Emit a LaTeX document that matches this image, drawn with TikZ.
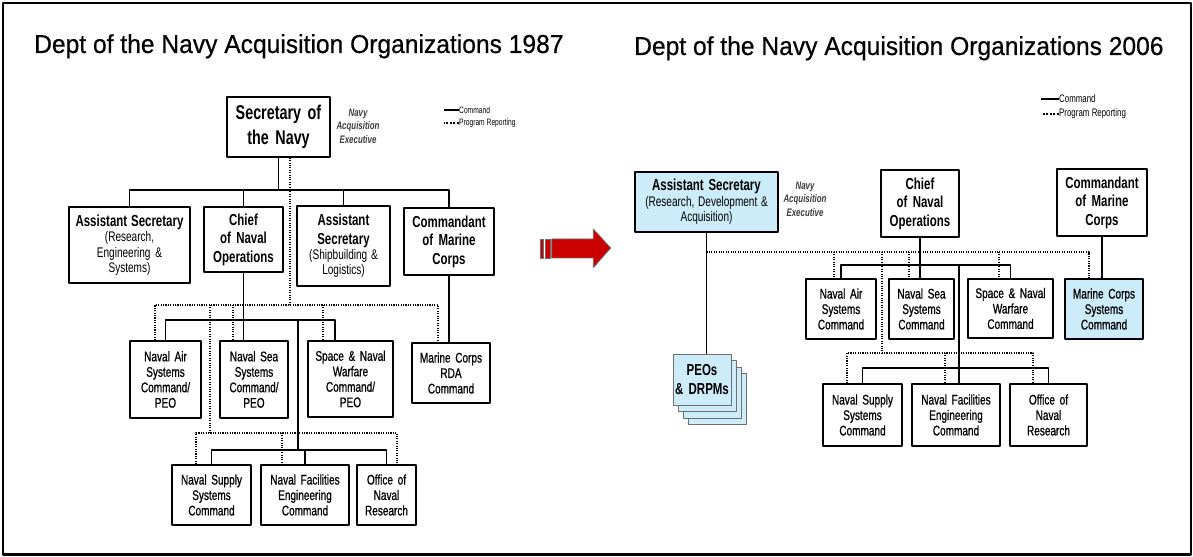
\documentclass[tikz,border=0pt]{standalone}
\usepackage{fontspec}
\setmainfont{Liberation Sans}
\newfontfamily\narrowsans[FakeStretch=0.72]{Liberation Sans}
\newfontfamily\unitsans[FakeStretch=0.72,FakeBold=0.8]{Liberation Sans}
\newfontfamily\titlesans[FakeStretch=0.95,FakeBold=0.5]{Liberation Sans}
\newcommand\titlefont{\titlesans\fontsize{26}{30}\selectfont}
\newcommand\narrowspace{\spaceskip=0.21em plus 0.1em minus 0.05em\relax}
\newcommand\secfont{\narrowsans\bfseries\fontsize{20}{25}\selectfont\narrowspace}
\newcommand\headfont{\narrowsans\bfseries\fontsize{16}{18.5}\selectfont\narrowspace}
\newcommand\subfont{\narrowsans\fontsize{14}{15.5}\selectfont\narrowspace}
\newcommand\unitfont{\unitsans\fontsize{14}{15.5}\selectfont\narrowspace}
\newcommand\naefont{\narrowsans\bfseries\itshape\fontsize{11}{13.5}\selectfont}
\newcommand\legendfont{\narrowsans\fontsize{9.3}{11}\selectfont\narrowspace}
\newcommand\biglegendfont{\narrowsans\fontsize{11}{13}\selectfont\narrowspace}
\begin{document}
\begin{tikzpicture}[>=latex,line join=bevel,
  orgbox/.style 2 args={draw,line width=1.6bp,inner sep=0bp,align=center,text width=#1,minimum height=#2},
  headbox/.style={font=\headfont},
  unitbox/.style={font=\unitfont},
  bluebox/.style={fill=peoblue},
  peobox/.style={draw=peogray,fill=peoblue,line width=0.8bp,inner sep=0bp,align=center,text width=58bp,minimum height=51bp,font=\headfont},
  cmd/.style={line width=1.6bp},
  rep/.style={line width=1.5bp,dash pattern=on 1.1bp off 1.3bp},
  nae/.style={font=\naefont,align=center,text=naegray,inner sep=0bp},
  legend/.style={anchor=west,inner sep=0bp},
  ]
\definecolor{peoblue}{RGB}{204,236,250}
\definecolor{peogray}{RGB}{110,110,110}
\definecolor{naegray}{RGB}{60,60,60}
\definecolor{arrowred}{RGB}{204,0,0}
\useasboundingbox (0bp,0bp) rectangle (1193bp,557bp);
\draw [line width=2.5bp] (3bp,2.5bp) rectangle (1191bp,554bp);
%%
\node (title1) at (34bp,504bp) [anchor=base west,inner sep=0bp,font=\titlefont] {Dept of the Navy Acquisition Organizations 1987};
  \node (title2) at (634bp,502bp) [anchor=base west,inner sep=0bp,font=\titlefont] {Dept of the Navy Acquisition Organizations 2006};
%% 1987
\node (sec) at (278.5bp,430bp) [orgbox={103bp}{60bp},font=\secfont] {Secretary of\\the Navy};
  \node (nae1) at (358bp,431bp) [nae] {Navy\\Acquisition\\Executive};
  \node (asre) at (129.5bp,312bp) [orgbox={121bp}{76bp}] {{\headfont Assistant Secretary\par}{\subfont (Research,\\Engineering \&\\Systems)\par}};
  \node (cno1) at (243.5bp,317.5bp) [orgbox={79bp}{65bp},headbox] {Chief\\of Naval\\Operations};
  \node (assl) at (343.5bp,311bp) [orgbox={93bp}{80bp}] {{\headfont Assistant\\Secretary\par}{\subfont (Shipbuilding \&\\Logistics)\par}};
  \node (cmc1) at (449bp,315.5bp) [orgbox={90bp}{67bp},headbox] {Commandant\\of Marine\\Corps};
  \node (navair1) at (165.5bp,177.5bp) [orgbox={71bp}{77bp},unitbox] {Naval Air\\Systems\\Command/\\PEO};
  \node (navsea1) at (254bp,177.5bp) [orgbox={68bp}{77bp},unitbox] {Naval Sea\\Systems\\Command/\\PEO};
  \node (spawar1) at (350.5bp,178bp) [orgbox={85bp}{76bp},unitbox] {Space \& Naval\\Warfare\\Command/\\PEO};
  \node (mcrda) at (451bp,184bp) [orgbox={78bp}{60bp},unitbox] {Marine Corps\\RDA\\Command};
  \node (supply1) at (211.5bp,62bp) [orgbox={79bp}{60bp},unitbox] {Naval Supply\\Systems\\Command};
  \node (navfac1) at (305bp,62bp) [orgbox={88bp}{60bp},unitbox] {Naval Facilities\\Engineering\\Command};
  \node (onr1) at (386.5bp,62bp) [orgbox={59bp}{60bp},unitbox] {Office of\\Naval\\Research};
  \node (lcmd1) at (459bp,447bp) [legend,font=\legendfont] {Command};
  \node (lrep1) at (459bp,434bp) [legend,font=\legendfont] {Program Reporting};
  \draw [cmd] (lcmd1.west) -- ++(-15bp,0bp);
  \draw [line width=2.5bp,dash pattern=on 2bp off 1.6bp] (lrep1.west) -- ++(-15bp,0bp);
% program reporting
\coordinate (dsec) at (290bp,252bp);
  \coordinate (dair) at (155bp,252bp);
  \coordinate (dshr) at (210bp,252bp);
  \coordinate (dsea) at (233bp,252bp);
  \coordinate (dspw) at (323bp,252bp);
  \coordinate (drda) at (438bp,252bp);
  \coordinate (dshore) at (210bp,124bp);
  \coordinate (dsup) at (196bp,124bp);
  \coordinate (dfac) at (282bp,124bp);
  \coordinate (donr) at (397bp,124bp);
  \draw [rep] (dsec |- sec.south) -- (dsec);
  \draw [rep] (dair |- navair1.north) -- (dair) -- (drda) -- (drda |- mcrda.north);
  \draw [rep] (dsea) -- (dsea |- navsea1.north);
  \draw [rep] (dspw) -- (dspw |- spawar1.north);
  \draw [rep] (dshr) -- (dshore);
  \draw [rep] (dsup |- supply1.north) -- (dsup) -- (donr) -- (donr |- onr1.north);
  \draw [rep] (dfac) -- (dfac |- navfac1.north);
% command
\coordinate (jsec) at (278.5bp,367bp);
  \coordinate (jcno) at (298bp,237bp);
  \coordinate (jspw) at (335bp,237bp);
  \coordinate (jshore) at (298bp,107bp);
  \draw [cmd] (sec) -- (jsec);
  \draw [cmd] (asre.north) |- (jsec) -| (cmc1.north);
  \draw [cmd] (cno1.north) -- (cno1.north |- jsec);
  \draw [cmd] (assl.north) -- (assl.north |- jsec);
  \draw [cmd] (cno1.south) -- (cno1.south |- navsea1.north);
  \draw [cmd] (navair1.north) |- (jspw) -- (jspw |- spawar1.north);
  \draw [cmd] (jcno) -- (jshore);
  \draw [cmd] (supply1.north) |- (jshore) -| (onr1.north);
  \draw [cmd] (navfac1.north) -- (navfac1.north |- jshore);
  \draw [cmd] (cmc1.south) -- (cmc1.south |- mcrda.north);
%% arrow
\filldraw [fill=arrowred,draw=peogray,line width=0.8bp] (540bp,299bp) rectangle (543.3bp,318bp);
  \filldraw [fill=arrowred,draw=peogray,line width=0.8bp] (545bp,299bp) rectangle (550.7bp,318bp);
  \filldraw [fill=arrowred,draw=peogray,line width=0.8bp] (551.7bp,318bp) -- (593.3bp,318bp) -- (593.3bp,328bp) -- (610.7bp,309bp) -- (593.3bp,289.3bp) -- (593.3bp,299bp) -- (551.7bp,299bp) -- cycle;
%% 2006
\node (asrda) at (706.5bp,355bp) [orgbox={143bp}{60bp},bluebox] {{\headfont Assistant Secretary\par}{\subfont (Research, Development \&\\Acquisition)\par}};
  \node (nae2) at (805bp,358bp) [nae] {Navy\\Acquisition\\Executive};
  \node (cno2) at (920bp,353.5bp) [orgbox={78bp}{67bp},headbox] {Chief\\of Naval\\Operations};
  \node (cmc2) at (1102bp,354.5bp) [orgbox={90bp}{67bp},headbox] {Commandant\\of Marine\\Corps};
  \node (navair2) at (841bp,248bp) [orgbox={70bp}{60bp},unitbox] {Naval Air\\Systems\\Command};
  \node (navsea2) at (921.5bp,248bp) [orgbox={65bp}{60bp},unitbox] {Naval Sea\\Systems\\Command};
  \node (spawar2) at (1010.5bp,248.5bp) [orgbox={85bp}{59bp},unitbox] {Space \& Naval\\Warfare\\Command};
  \node (mcsc) at (1104bp,248bp) [orgbox={78bp}{60bp},unitbox,bluebox] {Marine Corps\\Systems\\Command};
  \node (supply2) at (862.5bp,142bp) [orgbox={79bp}{62bp},unitbox] {Naval Supply\\Systems\\Command};
  \node (navfac2) at (956bp,142bp) [orgbox={88bp}{62bp},unitbox] {Naval Facilities\\Engineering\\Command};
  \node (onr2) at (1048.5bp,142bp) [orgbox={77bp}{62bp},unitbox] {Office of\\Naval\\Research};
  \node (peo4) at (717bp,158bp) [peobox] {};
  \node (peo3) at (712bp,164.5bp) [peobox] {};
  \node (peo2) at (707bp,171bp) [peobox] {};
  \node (peo1) at (702bp,177.5bp) [peobox] {PEOs\\\& DRPMs};
  \node (lcmd2) at (1059bp,458bp) [legend,font=\biglegendfont] {Command};
  \node (lrep2) at (1059bp,443bp) [legend,font=\biglegendfont] {Program Reporting};
  \draw [cmd] (lcmd2.west) -- ++(-18bp,0bp);
  \draw [line width=2.5bp,dash pattern=on 2bp off 1.6bp] (lrep2.west) -- ++(-18bp,0bp);
% program reporting
\coordinate (ddev) at (706.5bp,305bp);
  \coordinate (dair2) at (834bp,305bp);
  \coordinate (dshr2) at (882bp,305bp);
  \coordinate (dsea2) at (909bp,305bp);
  \coordinate (dspw2) at (999bp,305bp);
  \coordinate (dmcsc) at (1089bp,305bp);
  \coordinate (dshore2) at (882bp,204bp);
  \coordinate (dsup2) at (847bp,204bp);
  \coordinate (dfac2) at (945bp,204bp);
  \coordinate (donr2) at (1033bp,204bp);
  \draw [rep] (ddev) -- (dmcsc) -- (dmcsc |- mcsc.north);
  \draw [rep] (dair2) -- (dair2 |- navair2.north);
  \draw [rep] (dsea2) -- (dsea2 |- navsea2.north);
  \draw [rep] (dspw2) -- (dspw2 |- spawar2.north);
  \draw [rep] (dshr2) -- (dshore2);
  \draw [rep] (dsup2 |- supply2.north) -- (dsup2) -- (donr2) -- (donr2 |- onr2.north);
  \draw [rep] (dfac2) -- (dfac2 |- navfac2.north);
% command
\coordinate (jtr2) at (959bp,292bp);
  \coordinate (jshore2) at (959bp,189bp);
  \draw [cmd] (asrda.south) -- (asrda.south |- peo1.north);
  \draw [cmd] (cno2.south) -- (cno2.south |- navsea2.north);
  \draw [cmd] (navair2.north) |- (jtr2) -| (spawar2.north);
  \draw [cmd] (jtr2) -- (jshore2) -- (jshore2 |- navfac2.north);
  \draw [cmd] (supply2.north) |- (jshore2) -| (onr2.north);
  \draw [cmd] (cmc2.south) -- (cmc2.south |- mcsc.north);
%
\end{tikzpicture}
\end{document}
